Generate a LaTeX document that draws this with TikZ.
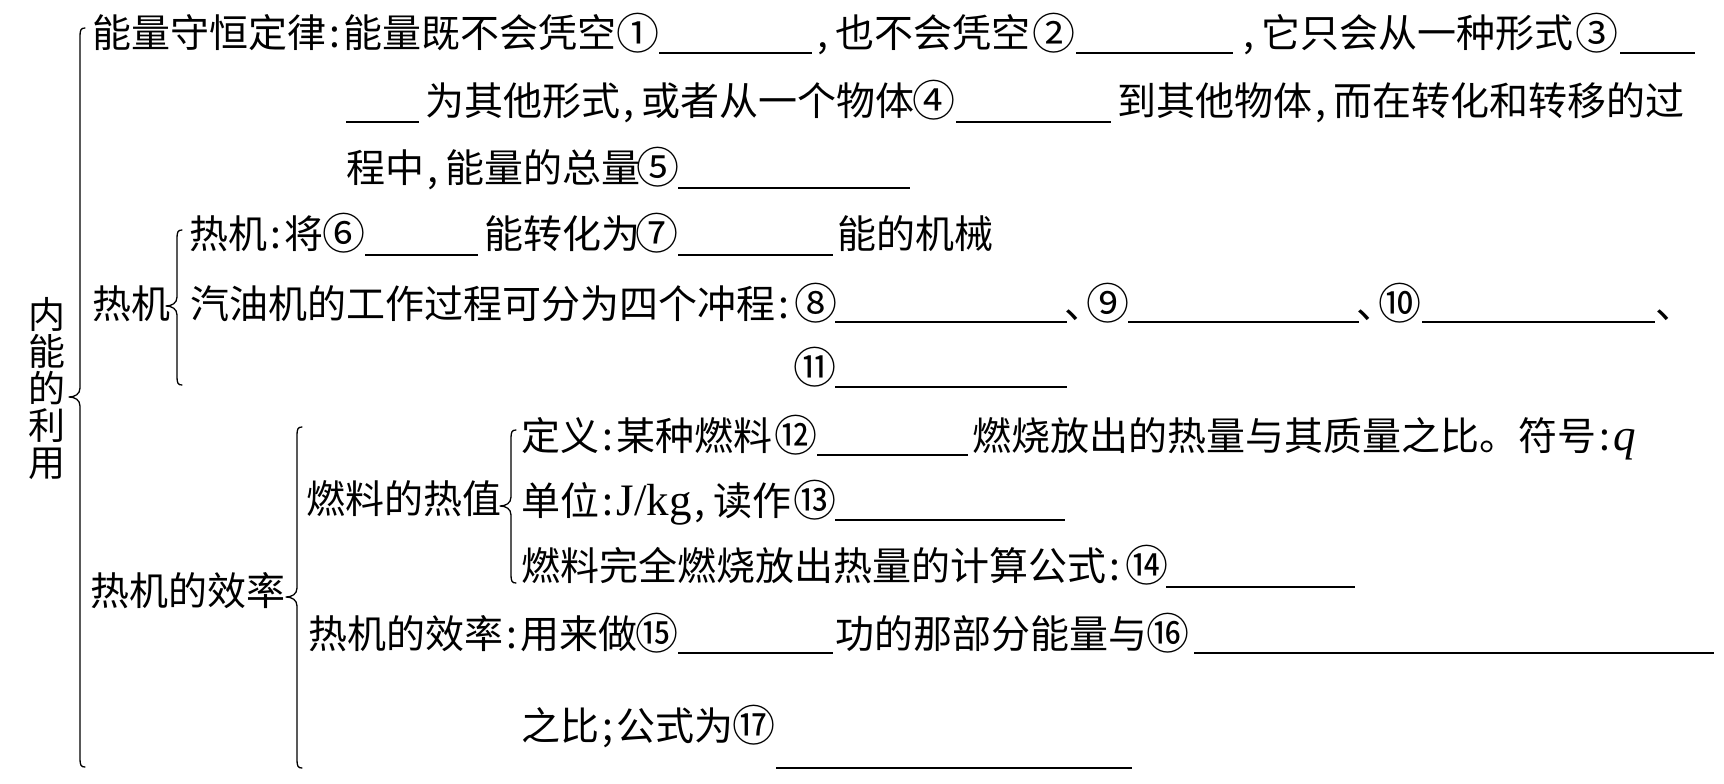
\documentclass[tikz,border=0pt]{standalone}
\usepackage{fontspec}
\newfontfamily\cjk{Noto Sans CJK SC}
\newfontfamily\lat{Liberation Serif}
\newcommand\cjkf{\cjk\fontsize{39pt}{39pt}\selectfont}
\newcommand\numf{\cjk\fontsize{43pt}{43pt}\selectfont}
\newcommand\latf{\lat\fontsize{45pt}{45pt}\selectfont}
\newcommand\pc{\makebox[0.45em]{:}}
\newcommand\pcm{\makebox[0.55em][l]{\hspace{0.08em},}}
\newcommand\psc{\makebox[0.45em]{;}}
\newcommand\dun{\makebox[0.5em][l]{、}}
\newcommand\dunw{\makebox[0.7em][l]{、}}
\newcommand\cn[1]{\makebox[0.76em]{#1}}
\newcommand\drawbrace[4]{%
  \draw[brc] (#1+5,#2) .. controls (#1+1,#2) and (#1,#2+2) .. (#1,#2+8)
    -- (#1,#4-9) .. controls (#1,#4-3) and (#1-5,#4) .. (#1-11,#4)
    .. controls (#1-5,#4) and (#1,#4+3) .. (#1,#4+9)
    -- (#1,#3-8) .. controls (#1,#3-2) and (#1+1,#3) .. (#1+5,#3);}
\begin{document}
\begin{tikzpicture}[x=1pt,y=-1pt,
  txt/.style={anchor=base west,inner sep=0pt,font=\cjkf},
  num/.style={anchor=base,inner sep=0pt,font=\numf},
  blank/.style={line width=1.6pt},
  brc/.style={line width=1.3pt,line join=round,line cap=round}]
\fill[white] (0,0) rectangle (1724,784);
\useasboundingbox (0,0) rectangle (1724,784);

% title
\node[anchor=center,inner sep=0pt,align=center,font={\cjk\fontsize{37pt}{37pt}\selectfont}] (title) at (47,389) {内\\能\\的\\利\\用};

% braces
\drawbrace{80}{28}{767}{397}
\drawbrace{177}{230}{385}{306}
\drawbrace{297}{427}{768}{597}
\drawbrace{511}{430}{583}{506}

% line 1
\node[txt] (a1) at (92,48) {能量守恒定律\pc 能量既不会凭空};
\node[num] (n1) at (638,49) {\cn{①}};
\draw[blank] (659,53) -- (812,53);
\node[txt] (a2) at (814,48) {\pcm 也不会凭空};
\node[num] (n2) at (1054,49) {\cn{②}};
\draw[blank] (1076,53) -- (1233,53);
\node[txt] (a3) at (1240,48) {\pcm 它只会从一种形式};
\node[num] (n3) at (1597,49) {\cn{③}};
\draw[blank] (1620,53) -- (1695,53);

% line 2
\draw[blank] (346,122) -- (419,122);
\node[txt] (b1) at (425,115) {为其他形式\pcm 或者从一个物体};
\node[num] (n4) at (934,116) {\cn{④}};
\draw[blank] (956,122) -- (1111,122);
\node[txt] (b2) at (1117,115) {到其他物体\pcm 而在转化和转移的过};

% line 3
\node[txt] (c1) at (346,182) {程中\pcm 能量的总量};
\node[num] (n5) at (658,183) {\cn{⑤}};
\draw[blank] (678,188) -- (910,188);

% line 4
\node[txt] (d1) at (189,248) {热机\pc 将};
\node[num] (n6) at (344,249) {\cn{⑥}};
\draw[blank] (365,255) -- (478,255);
\node[txt] (d2) at (484,248) {能转化为};
\node[num] (n7) at (657,249) {\cn{⑦}};
\draw[blank] (678,255) -- (833,255);
\node[txt] (d3) at (837,248) {能的机械};

% line 5
\node[txt] (e0) at (92,318) {热机};
\node[txt] (e1) at (190,318) {汽油机的工作过程可分为四个冲程\pc};
\node[num] (n8) at (816,319) {\cn{⑧}};
\draw[blank] (835,322) -- (1067,322);
\node[txt] (e2) at (1064,318) {\dunw{\numf\raisebox{-1pt}{\cn{⑨}}}};
\draw[blank] (1128,322) -- (1359,322);
\node[txt] (e3) at (1356,318) {\dunw{\numf\raisebox{-1pt}{\cn{⑩}}}};
\draw[blank] (1422,322) -- (1655,322);
\node[txt] (e4) at (1655,318) {\dun};

% line 6
\node[num] (n11) at (815,383) {\cn{⑪}};
\draw[blank] (835,387) -- (1067,387);

% lower part
\node[txt] (f0) at (90,605) {热机的效率};
\node[txt] (g0) at (306,513) {燃料的热值};

\node[txt] (h1) at (521,450) {定义\pc 某种燃料};
\node[num] (n12) at (796,451) {\cn{⑫}};
\draw[blank] (817,455) -- (968,455);
\node[txt] (h2) at (972,450) {燃烧放出的热量与其质量之比。符号\pc{\latf\itshape q}};

\node[txt] (i1) at (521,515) {单位\pc{\latf J/kg}\pcm 读作};
\node[num] (n13) at (815,516) {\cn{⑬}};
\draw[blank] (835,520) -- (1065,520);

\node[txt] (j1) at (521,580) {燃料完全燃烧放出热量的计算公式\pc};
\node[num] (n14) at (1147,581) {\cn{⑭}};
\draw[blank] (1166,587) -- (1355,587);

\node[txt] (k1) at (308,648) {热机的效率\pc 用来做};
\node[num] (n15) at (657,649) {\cn{⑮}};
\draw[blank] (678,653) -- (833,653);
\node[txt] (k2) at (835,648) {功的那部分能量与};
\node[num] (n16) at (1168,649) {\cn{⑯}};
\draw[blank] (1194,653) -- (1714,653);

\node[txt] (l1) at (521,740) {之比\psc 公式为};
\node[num] (n17) at (754,741) {\cn{⑰}};
\draw[blank] (776,768) -- (1132,768);
\end{tikzpicture}
\end{document}
